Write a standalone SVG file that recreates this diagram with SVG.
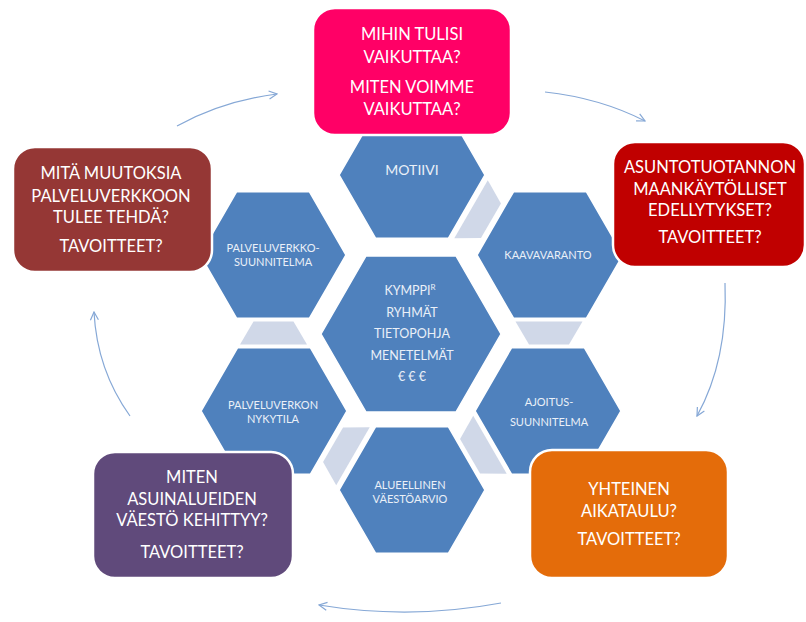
<svg xmlns="http://www.w3.org/2000/svg" width="806" height="622" viewBox="0 0 806 622">
<defs>
<style>
.hex{fill:#4F81BD;stroke:#FFFFFF;stroke-width:1.5}
.trap{fill:#D0D8E8}
.ht{font-family:Lato,"Liberation Sans",sans-serif;fill:#EAF0F8;text-anchor:middle;font-size:11px}
.box{stroke:#FFFFFF;stroke-width:2.5}
.bt{font-family:Lato,"Liberation Sans",sans-serif;fill:#FFFFFF;text-anchor:middle;font-size:16.5px}
.arc{fill:none;stroke:#86A8D6;stroke-width:1.2;marker-end:url(#ah)}
</style>
<marker id="ah" viewBox="0 0 10 10" refX="9" refY="5" markerWidth="10" markerHeight="10" markerUnits="userSpaceOnUse" orient="auto">
<path d="M1,1 L9,5 L1,9" fill="none" stroke="#86A8D6" stroke-width="1.2"/>
</marker>
<polygon id="hx" points="-73,0 -36.5,-63.2 36.5,-63.2 73,0 36.5,63.2 -36.5,63.2"/>
<polygon id="tz" points="-11.5,-33.5 -11.5,33.5 11.5,20 11.5,-20"/>
</defs>
<rect width="806" height="622" fill="#FFFFFF"/>

<g id="hex-motiivi">
<use href="#hx" class="hex" transform="translate(412,175)"/>
<text class="ht" x="412" y="175" style="font-size:14px">MOTIIVI</text>
</g>
<g id="hex-kaavavaranto">
<use href="#hx" class="hex" transform="translate(550,255)"/>
<text class="ht" x="548" y="259">KAAVAVARANTO</text>
</g>
<g id="hex-ajoitus">
<use href="#hx" class="hex" transform="translate(548,411)"/>
<text class="ht" x="549" y="406">AJOITUS-</text>
<text class="ht" x="549" y="426">SUUNNITELMA</text>
</g>
<g id="hex-alueellinen">
<use href="#hx" class="hex" transform="translate(412,490)"/>
<text class="ht" x="410" y="489">ALUEELLINEN</text>
<text class="ht" x="410" y="503">VÄESTÖARVIO</text>
</g>
<g id="hex-nykytila">
<use href="#hx" class="hex" transform="translate(274,411)"/>
<text class="ht" x="273" y="409">PALVELUVERKON</text>
<text class="ht" x="273" y="423">NYKYTILA</text>
</g>
<g id="hex-suunnitelma">
<use href="#hx" class="hex" transform="translate(273,255)"/>
<text class="ht" x="273" y="252">PALVELUVERKKO-</text>
<text class="ht" x="273" y="266">SUUNNITELMA</text>
</g>
<g id="hex-center">
<polygon class="hex" points="321,334 366,256 456,256 501,334 456,412 366,412"/>
<text class="ht" x="410" y="295" style="font-size:12.5px">KYMPPI<tspan dy="-5" style="font-size:8px">R</tspan></text>
<text class="ht" x="412" y="317" style="font-size:12.5px">RYHMÄT</text>
<text class="ht" x="412" y="338" style="font-size:12.5px">TIETOPOHJA</text>
<text class="ht" x="412" y="360" style="font-size:12.5px">MENETELMÄT</text>
<text class="ht" x="412" y="381" style="font-size:12.5px">€ € €</text>
</g>

<g id="connectors">
<use href="#tz" class="trap" transform="translate(481,215) rotate(30)"/>
<use href="#tz" class="trap" transform="translate(549,333) rotate(90)"/>
<use href="#tz" class="trap" transform="translate(480,450.5) rotate(150)"/>
<use href="#tz" class="trap" transform="translate(343,450.5) rotate(210)"/>
<use href="#tz" class="trap" transform="translate(273.5,333) rotate(270)"/>
<path class="arc" d="M177,126 Q222,101 277,94"/>
<path class="arc" d="M545,92 Q600,98 645,121"/>
<path class="arc" d="M725,283 Q728,360 697,416"/>
<path class="arc" d="M501,603 Q410,620 319,605"/>
<path class="arc" d="M130,416 Q97,370 94,312"/>
</g>

<g id="box-top">
<rect class="box" x="313" y="8" width="198" height="127" rx="22" fill="#FF0066"/>
<text class="bt" x="412" y="40">MIHIN TULISI</text>
<text class="bt" x="412" y="63">VAIKUTTAA?</text>
<text class="bt" x="412" y="93">MITEN VOIMME</text>
<text class="bt" x="412" y="115">VAIKUTTAA?</text>
</g>
<g id="box-right">
<rect class="box" x="613" y="142" width="192" height="125" rx="22" fill="#C00000"/>
<text class="bt" x="710" y="173">ASUNTOTUOTANNON</text>
<text class="bt" x="710" y="195">MAANKÄYTÖLLISET</text>
<text class="bt" x="710" y="216">EDELLYTYKSET?</text>
<text class="bt" x="710" y="243">TAVOITTEET?</text>
</g>
<g id="box-left">
<rect class="box" x="13" y="147" width="199" height="125" rx="22" fill="#953735"/>
<text class="bt" x="111" y="179">MITÄ MUUTOKSIA</text>
<text class="bt" x="111" y="202">PALVELUVERKKOON</text>
<text class="bt" x="111" y="223">TULEE TEHDÄ?</text>
<text class="bt" x="111" y="252">TAVOITTEET?</text>
</g>
<g id="box-bottom-left">
<rect class="box" x="93" y="452" width="200" height="126" rx="22" fill="#604A7B"/>
<text class="bt" x="192" y="483">MITEN</text>
<text class="bt" x="192" y="505">ASUINALUEIDEN</text>
<text class="bt" x="192" y="526">VÄESTÖ KEHITTYY?</text>
<text class="bt" x="192" y="558">TAVOITTEET?</text>
</g>
<g id="box-bottom-right">
<rect class="box" x="530" y="450" width="198" height="128" rx="22" fill="#E46C0A"/>
<text class="bt" x="629" y="495">YHTEINEN</text>
<text class="bt" x="629" y="517">AIKATAULU?</text>
<text class="bt" x="629" y="545">TAVOITTEET?</text>
</g>
</svg>
